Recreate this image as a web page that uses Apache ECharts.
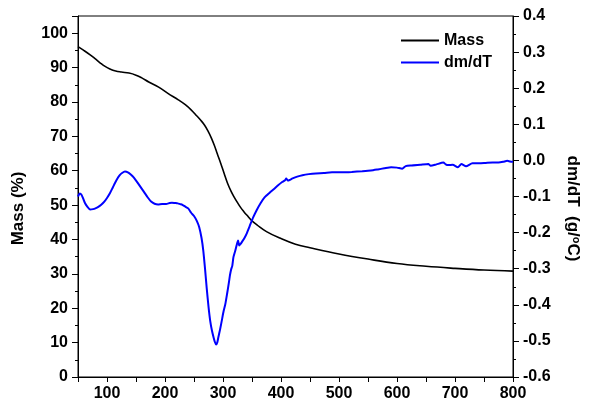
<!DOCTYPE html>
<html>
<head>
<meta charset="utf-8">
<script src="https://cdn.jsdelivr.net/npm/echarts@6/dist/echarts.min.js"></script>
<style>html,body{margin:0;padding:0;background:#fff;}#chart{width:590px;height:404px;}</style>
</head>
<body>
<div id="chart"></div>
<script>
// Temperature (°C) and Mass (%) for the TG curve
var massT = [50, 60, 71, 80, 88, 96, 105, 115, 125, 138, 150, 160, 172, 189, 205, 223, 235, 245, 255, 262, 268, 274, 280, 285, 290, 296, 302, 308, 314, 319, 325, 330, 336, 341, 350, 359, 375, 398, 425, 450, 500, 550, 600, 650, 700, 750, 800];
var massValues = [96.1, 95.0, 93.7, 92.5, 91.4, 90.4, 89.6, 89.0, 88.7, 88.4, 87.8, 87.0, 85.8, 84.3, 82.5, 80.6, 79.2, 77.7, 75.9, 74.6, 73.3, 71.6, 69.5, 67.4, 65.0, 62.2, 59.2, 56.3, 54.0, 52.4, 50.7, 49.4, 48.1, 47.1, 45.4, 44.2, 42.3, 40.4, 38.6, 37.6, 35.8, 34.3, 33.0, 32.2, 31.6, 31.1, 30.8];

// Temperature (°C) and dm/dT (g/°C) for the DTG curve
var dmT = [50, 53, 56, 59, 62, 66, 71, 76, 80, 85, 90, 95, 100, 105, 110, 114, 118, 122, 126, 131, 136, 141, 146, 152, 158, 164, 170, 176, 182, 188, 195, 202, 208, 212, 217, 222, 226, 230, 235, 240, 245, 250, 255, 259, 263, 266, 269, 272, 275, 278, 281, 284, 286, 288, 290, 292, 295, 298, 301, 304, 307, 310, 312, 314, 316, 318, 321, 324, 326, 328, 330, 333, 337, 341, 346, 352, 358, 365, 372, 380, 388, 395, 402, 407, 409, 412, 415, 420, 428, 437, 448, 460, 474, 488, 505, 522, 540, 555, 567, 578, 590, 600, 609, 615, 625, 640, 654, 658, 668, 680, 684, 688, 696, 705, 711, 719, 730, 742, 753, 765, 775, 783, 790, 795, 800];
var dmValues = [-0.100, -0.092, -0.095, -0.106, -0.118, -0.128, -0.136, -0.135, -0.133, -0.129, -0.123, -0.115, -0.104, -0.091, -0.075, -0.062, -0.050, -0.041, -0.035, -0.031, -0.033, -0.039, -0.047, -0.060, -0.074, -0.088, -0.102, -0.114, -0.120, -0.122, -0.121, -0.121, -0.118, -0.117, -0.118, -0.119, -0.121, -0.123, -0.128, -0.133, -0.145, -0.154, -0.168, -0.185, -0.215, -0.250, -0.300, -0.355, -0.405, -0.445, -0.472, -0.492, -0.503, -0.510, -0.505, -0.490, -0.468, -0.443, -0.418, -0.398, -0.370, -0.340, -0.318, -0.302, -0.292, -0.268, -0.251, -0.232, -0.222, -0.236, -0.232, -0.225, -0.215, -0.202, -0.182, -0.158, -0.138, -0.118, -0.102, -0.090, -0.079, -0.069, -0.060, -0.055, -0.050, -0.056, -0.054, -0.050, -0.045, -0.041, -0.038, -0.036, -0.035, -0.033, -0.033, -0.032, -0.030, -0.028, -0.025, -0.022, -0.019, -0.020, -0.023, -0.016, -0.014, -0.012, -0.010, -0.015, -0.011, -0.006, -0.011, -0.013, -0.012, -0.019, -0.010, -0.016, -0.008, -0.008, -0.007, -0.006, -0.006, -0.004, -0.001, -0.003, -0.004];

// Tick labels on the temperature axis
var xTicks = [100, 200, 300, 400, 500, 600, 700, 800];

var massData = massT.map(function (t, i) { return [t, massValues[i]]; });
var dmData = dmT.map(function (t, i) { return [t, dmValues[i]]; });

var FONT = "'Liberation Sans', Arial, sans-serif";
var chart = echarts.init(document.getElementById('chart'), null, { renderer: 'canvas' });
chart.setOption({
  animation: false,
  backgroundColor: '#ffffff',
  textStyle: { fontFamily: FONT },
  grid: { left: 78, right: 69, top: 16, bottom: 27, show: true, borderColor: '#000', borderWidth: 1, containLabel: false },
  legend: {
    orient: 'vertical', left: 396, top: 27, itemWidth: 38, itemHeight: 2, itemGap: 5,
    textStyle: { fontFamily: FONT, fontSize: 16, fontWeight: 'bold', color: '#000', lineHeight: 17 },
    data: [{ name: 'Mass', icon: 'rect' }, { name: 'dm/dT', icon: 'rect' }]
  },
  xAxis: {
    type: 'value', min: 50, max: 800, interval: 50,
    axisLine: { lineStyle: { color: '#000', width: 1 } },
    axisTick: { show: true, length: 5, lineStyle: { color: '#000' } },
    splitLine: { show: false },
    axisLabel: {
      margin: 9, color: '#000', fontSize: 16, fontWeight: 'bold', fontFamily: FONT,
      formatter: function (v) { return xTicks.indexOf(Math.round(v)) >= 0 ? String(Math.round(v)) : ''; }
    }
  },
  yAxis: [
    {
      type: 'value', min: 0, max: 105, interval: 10, position: 'left',
      name: 'Mass (%)', nameLocation: 'middle', nameGap: 51, nameRotate: 90,
      nameTextStyle: { fontFamily: FONT, fontSize: 17, fontWeight: 'bold', color: '#000', padding: [0, 24, 0, 0] },
      axisLine: { show: true, lineStyle: { color: '#000', width: 1 } },
      axisTick: { show: true, length: 6, lineStyle: { color: '#000' } },
      minorTick: { show: true, splitNumber: 2, length: 3, lineStyle: { color: '#000' } },
      splitLine: { show: false },
      axisLabel: {
        margin: 10, color: '#000', fontSize: 16, fontWeight: 'bold', fontFamily: FONT,
        formatter: function (v) { return v > 100.5 ? '' : String(Math.round(v)); }
      }
    },
    {
      type: 'value', min: -0.6, max: 0.4, interval: 0.1, position: 'right',
      name: 'dm/dT  (g/{s|o}C)', nameLocation: 'middle', nameGap: 50, nameRotate: -90,
      nameTextStyle: {
        fontFamily: FONT, fontSize: 17, fontWeight: 'bold', color: '#000', padding: [0, 0, 0, 24],
        rich: { s: { fontFamily: FONT, fontSize: 11, fontWeight: 'bold', color: '#000', verticalAlign: 'top', padding: [0, 0, 8, 0] } }
      },
      axisLine: { show: true, lineStyle: { color: '#000', width: 1 } },
      axisTick: { show: true, length: 6, lineStyle: { color: '#000' } },
      minorTick: { show: true, splitNumber: 2, length: 3, lineStyle: { color: '#000' } },
      splitLine: { show: false },
      axisLabel: {
        margin: 10, color: '#000', fontSize: 16, fontWeight: 'bold', fontFamily: FONT,
        formatter: function (v) { return Math.abs(v) < 1e-9 ? '0.0' : v.toFixed(1); }
      }
    }
  ],
  series: [
    {
      name: 'Mass', type: 'line', yAxisIndex: 0, data: massData, symbol: 'none', smooth: 0.4,
      lineStyle: { color: '#000', width: 1.6 }, itemStyle: { color: '#000' }
    },
    {
      name: 'dm/dT', type: 'line', yAxisIndex: 1, data: dmData, symbol: 'none', smooth: 0.2,
      lineStyle: { color: '#0000ff', width: 2 }, itemStyle: { color: '#0000ff' }
    }
  ]
});
</script>
</body>
</html>
